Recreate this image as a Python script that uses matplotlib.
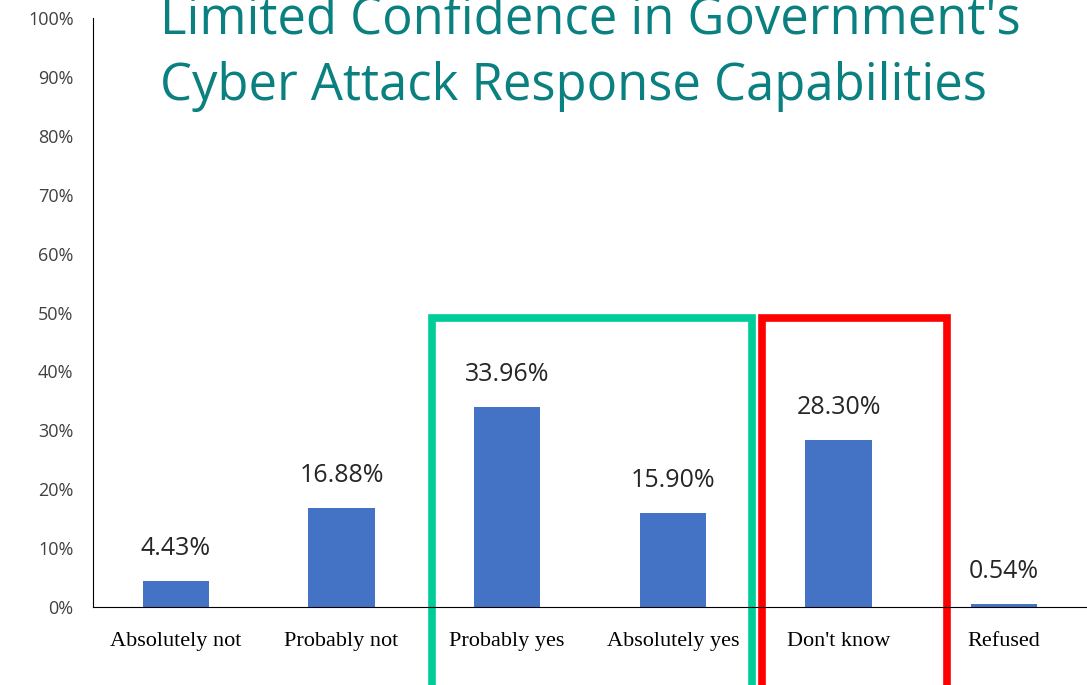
import numpy as np
from matplotlib import pyplot as plt
from matplotlib.patches import Rectangle

categories = ["Absolutely not", "Probably not", "Probably yes", "Absolutely yes", "Don't know", "Refused"]
shares = [4.43, 16.88, 33.96, 15.90, 28.30, 0.54]
value_labels = ["4.43%", "16.88%", "33.96%", "15.90%", "28.30%", "0.54%"]
y_ticks = list(range(0, 101, 10))
title_lines = ["Limited Confidence in Government's", "Cyber Attack Response Capabilities"]

fig = plt.figure(figsize=(10.87, 6.85), dpi=100)
ax = fig.add_axes([93 / 1087, 1 - 607 / 685, 994 / 1087, 589 / 685])

x = np.arange(len(categories))
ax.bar(x, shares, width=0.40, color="#4472C4")
ax.set_xlim(-0.5, len(categories) - 0.5)
ax.set_ylim(0, 100)

ax.set_yticks(y_ticks)
ax.set_yticklabels([f"{t}%" for t in y_ticks], fontsize=13, color="#404040", family="Open Sans")
ax.set_xticks(x)
ax.set_xticklabels(categories, fontsize=16, family="Liberation Serif", color="black")
ax.tick_params(axis="both", length=0)
ax.tick_params(axis="y", pad=14)
ax.tick_params(axis="x", pad=18)

for side in ["top", "right"]:
    ax.spines[side].set_visible(False)
ax.spines["left"].set_color("black")
ax.spines["bottom"].set_color("black")

for xi, v, lab in zip(x, shares, value_labels):
    ax.text(xi, v + 3.4, lab, ha="center", va="bottom", fontsize=18,
            family="Open Sans", color="#262626")

# highlight boxes around answer groups
ax.add_patch(Rectangle((1.546, -14), 3.477 - 1.546, 63, fill=False,
                       edgecolor="#00CC99", linewidth=5.5, clip_on=False))
ax.add_patch(Rectangle((3.537, -14), 4.654 - 3.537, 63, fill=False,
                       edgecolor="#FF0000", linewidth=5.5, clip_on=False))

fig.text(160 / 1087, 1 - 33 / 685, title_lines[0], fontsize=36.5, color="#0B8080",
         family="Open Sans", va="baseline", ha="left")
fig.text(160 / 1087, 1 - 100 / 685, title_lines[1], fontsize=36.5, color="#0B8080",
         family="Open Sans", va="baseline", ha="left")

fig.savefig("out.png", dpi=100)
